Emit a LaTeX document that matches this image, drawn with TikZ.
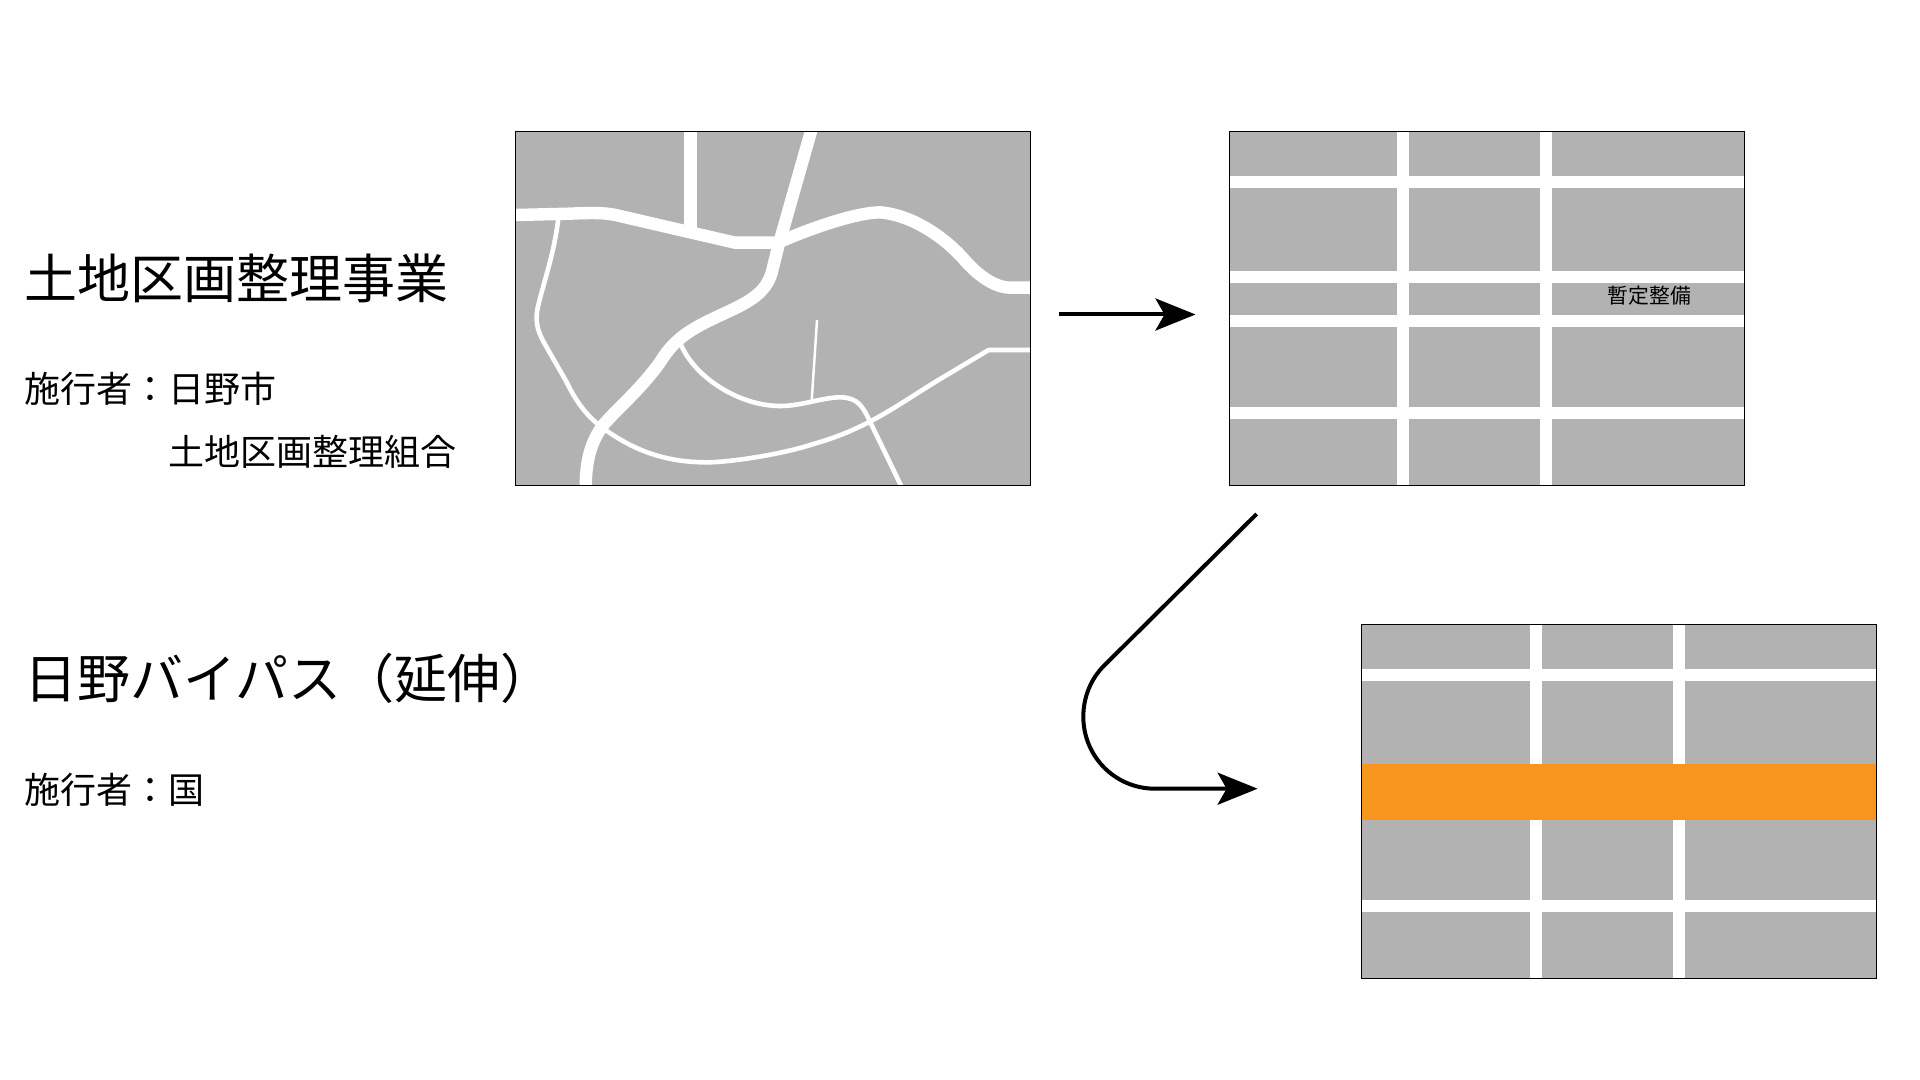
\documentclass[tikz,border=0pt]{standalone}
\usepackage{fontspec}
\setmainfont{Noto Sans CJK JP}
\usetikzlibrary{arrows.meta}
\definecolor{mapgray}{HTML}{B2B2B2}
\definecolor{bypass}{HTML}{F8951D}
\tikzset{
  mapbox/.style={fill=mapgray,draw=none,inner sep=0pt,outer sep=0pt,minimum width=257.5pt,minimum height=177pt},
  mapedge/.style={draw=black,line width=0.8pt},
  roadstrip/.style={fill=white,draw=none},
  road/.style={draw=white,line width=6.2pt,line cap=butt,line join=round},
  lane/.style={draw=white,line width=2.3pt,line cap=butt,line join=round},
  alley/.style={draw=white,line width=1.25pt,line cap=butt},
  flow/.style={draw=black,line width=2pt,-{Stealth[length=20pt,width=16pt,inset=4.5pt]}},
  head/.style={anchor=west,inner sep=0pt,font=\fontsize{26.5pt}{26.5pt}\selectfont},
  sub/.style={anchor=west,inner sep=0pt,font=\fontsize{18pt}{18pt}\selectfont},
  tiny/.style={anchor=center,inner sep=0pt,font=\fontsize{10.4pt}{10.4pt}\selectfont}
}
\begin{document}
\begin{tikzpicture}[x=0.5pt,y=-0.5pt]
\useasboundingbox (0,0) rectangle (1920,1080);
\fill[white] (0,0) rectangle (1920,1080);
% texts
\node[head] (t1) at (24,278) {土地区画整理事業};
\node[sub] (t2) at (24,389) {施行者：日野市};
\node[sub] (t3) at (168,452) {土地区画整理組合};
\node[head] (t4) at (24.5,678) {日野バイパス（延伸）};
\node[sub] (t5) at (24,790) {施行者：国};
% map 1
\node[mapbox] (map1) at (773,308.6) {};
\begin{scope}
\clip (map1.south west) rectangle (map1.north east);
\begin{scope}[shift={(499.7,120)},x=0.1755pt,y=-0.16667pt]
\draw[road] (45,285) -- (200,281) .. controls (260,278) and (300,278) .. (330,285) -- (670,368) -- (790,368) -- (815,358) .. controls (900,320) and (1020,277) .. (1085,277) .. controls (1170,285) and (1260,345) .. (1320,415) .. controls (1360,465) and (1410,503) .. (1455,503) -- (1520,503);
\draw[road] (544,30) -- (544,345);
\draw[road] (888,30) -- (792,385) -- (775,458) .. controls (755,530) and (690,555) .. (620,590) .. controls (560,620) and (500,650) .. (458,725) .. controls (400,810) and (340,860) .. (295,915) .. controls (260,965) and (245,1020) .. (245,1105);
\draw[lane] (167,295) .. controls (155,400) and (130,470) .. (110,555) .. controls (100,600) and (105,630) .. (130,675) -- (190,785) .. controls (220,850) and (250,890) .. (295,925) .. controls (380,990) and (470,1027) .. (590,1027) .. controls (650,1027) and (800,1005) .. (900,970) .. controls (1050,925) and (1140,850) .. (1250,780) -- (1393,690) -- (1520,690);
\draw[lane] (517,675) .. controls (555,770) and (680,858) .. (800,858) .. controls (860,858) and (920,832) .. (970,832) .. controls (1020,832) and (1035,860) .. (1055,905) -- (1147,1105);
\draw[alley] (904,600) -- (889,840);
\end{scope}
\end{scope}
\draw[mapedge] (map1.south west) rectangle (map1.north east);
% map 2
\node[mapbox] (map2) at (1487,308.6) {};
\fill[roadstrip] (1397,131.6) rectangle (1409,485.6);
\fill[roadstrip] (1540,131.6) rectangle (1552,485.6);
\fill[roadstrip] (1229.5,176) rectangle (1744,188);
\fill[roadstrip] (1229.5,270.7) rectangle (1744,282.7);
\fill[roadstrip] (1229.5,315) rectangle (1744,327);
\fill[roadstrip] (1229.5,407) rectangle (1744,419);
\draw[mapedge] (map2.south west) rectangle (map2.north east);
\node[tiny] (t6) at (1649.5,296) {暫定整備};
% map 3
\node[mapbox] (map3) at (1619,801.5) {};
\fill[roadstrip] (1529.5,624.5) rectangle (1541.5,978.5);
\fill[roadstrip] (1672.5,624.5) rectangle (1684.5,978.5);
\fill[roadstrip] (1361.5,669) rectangle (1876.5,681);
\fill[roadstrip] (1361.5,900) rectangle (1876.5,912);
\fill[bypass] (1361.5,764) rectangle (1876.5,819.5);
\draw[mapedge] (map3.south west) rectangle (map3.north east);
% arrows
\coordinate (a1) at (1059,314.5);
\coordinate (a2) at (1195.5,314.5);
\draw[flow] (a1) -- (a2);
\coordinate (b1) at (1256.6,514);
\coordinate (b2) at (1104,665.7);
\coordinate (b3) at (1083.3,716.7);
\coordinate (b4) at (1155,788.7);
\coordinate (b5) at (1257.6,788.7);
\draw[flow] (b1) -- (b2) .. controls (1090.5,679.2) and (1083.3,697.6) .. (b3) .. controls (1083.3,756.5) and (1115.2,788.7) .. (b4) -- (b5);
\end{tikzpicture}
\end{document}
